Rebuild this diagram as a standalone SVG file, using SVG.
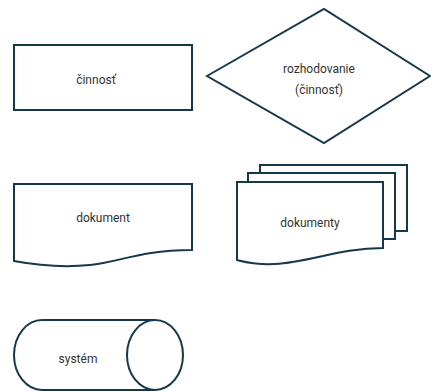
<svg xmlns="http://www.w3.org/2000/svg" width="431" height="392" viewBox="0 0 431 392">
<style>
.s{fill:#fff;stroke:#16394a;stroke-width:2;stroke-linejoin:miter}
.t{font-family:Roboto,"Liberation Sans",sans-serif;font-size:12px;fill:#333;text-anchor:middle}
</style>
<rect width="431" height="392" fill="#fff"/>
<g id="cinnost">
<rect class="s" x="14" y="45" width="178" height="65"/>
<text class="t" x="96" y="84">činnosť</text>
</g>
<g id="rozhodovanie">
<polygon class="s" points="207,76 324,9 430,76 324,143"/>
<text class="t" x="319" y="73">rozhodovanie</text>
<text class="t" x="319" y="94">(činnosť)</text>
</g>
<g id="dokument">
<path class="s" d="M14,184 H192 V250 C140,250 120,262 90,265 C60,268 30,264 14,261 Z"/>
<text class="t" x="103" y="222">dokument</text>
</g>
<g id="dokumenty">
<path class="s" d="M260,173 V165 H407 V231 H395"/>
<path class="s" d="M248,182 V173 H395 V239 H383"/>
<path class="s" d="M237,182 H383 V248 C340,248 310,262 275,264 C255,265 245,262 237,260 Z"/>
<text class="t" x="310" y="227">dokumenty</text>
</g>
<g id="system">
<path class="s" d="M155,320 H42 A28,35 0 0 0 42,390 H155"/>
<ellipse class="s" cx="155" cy="355" rx="28" ry="35"/>
<text class="t" x="78" y="363">systém</text>
</g>
<g id="connectors"/>
</svg>
